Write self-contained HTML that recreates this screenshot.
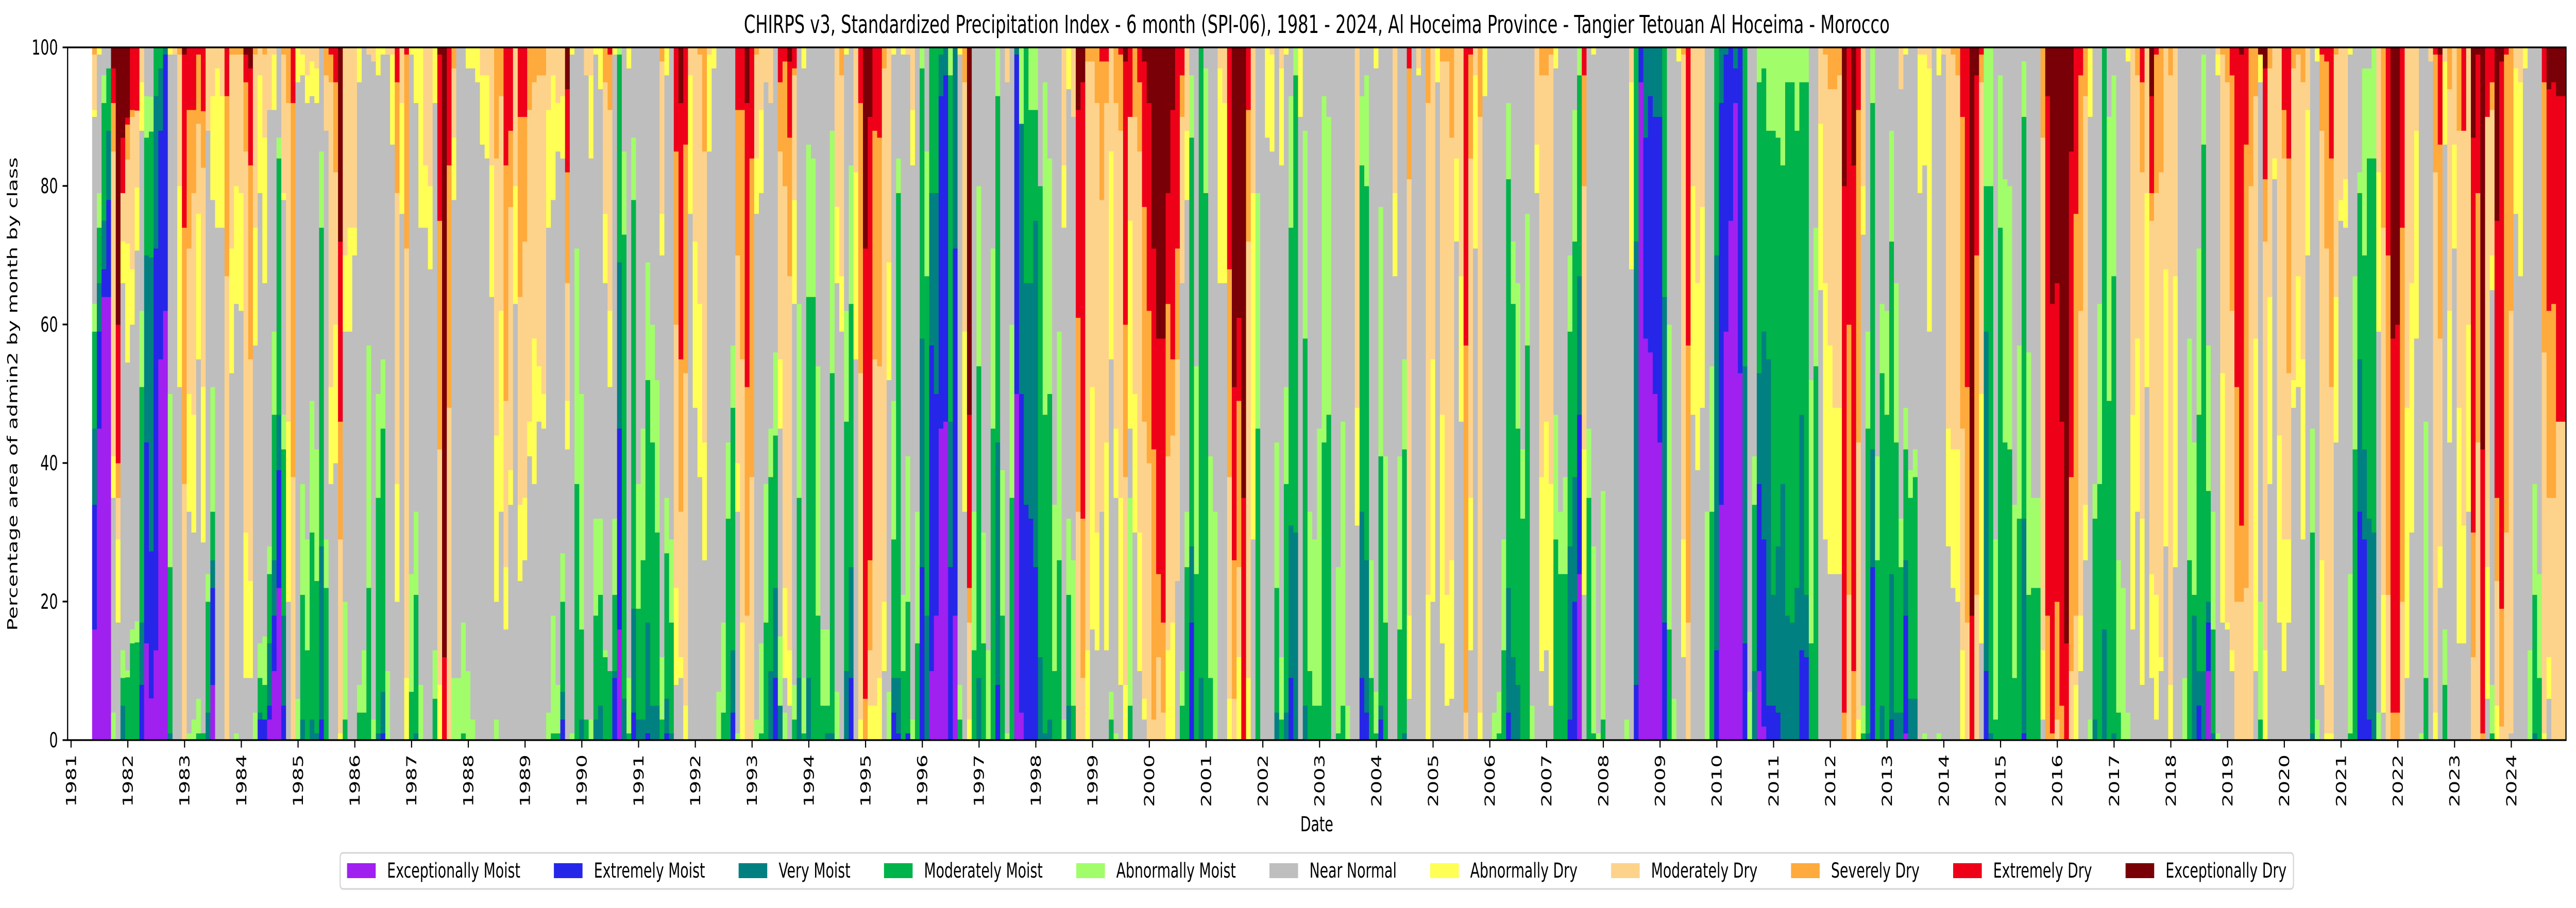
<!DOCTYPE html>
<html><head><meta charset="utf-8"><style>
html,body{margin:0;padding:0;background:#fff;overflow:hidden;width:100%;height:100%}
svg{display:block;width:100vw;height:100vh;font-family:"DejaVu Sans","Liberation Sans",sans-serif}
</style></head><body>
<svg id="chart" viewBox="0 0 7467 1763" preserveAspectRatio="none" xmlns="http://www.w3.org/2000/svg">
<rect width="7467" height="1763" fill="#fff"/>
<text x="3817" y="64" font-size="48" text-anchor="middle">CHIRPS v3, Standardized Precipitation Index - 6 month (SPI-06), 1981 - 2024, Al Hoceima Province - Tangier Tetouan Al Hoceima - Morocco</text>
<g id="bars"></g>
<g id="axes"></g>
<text transform="translate(50,765) rotate(-90)" font-size="40" text-anchor="middle">Percentage area of admin2 by month by class</text>
<text x="3817" y="1614" font-size="40" text-anchor="middle">Date</text>
<g id="legend"></g>
</svg>
<script>
const classNames = ["Exceptionally Moist","Extremely Moist","Very Moist","Moderately Moist","Abnormally Moist","Near Normal","Abnormally Dry","Moderately Dry","Severely Dry","Extremely Dry","Exceptionally Dry"];
const classColors = ["#a020f0","#2626e8","#008080","#00b34a","#a2fd6a","#bebebe","#ffff55","#fdd38c","#ffaa3c","#ee0019","#780006"];
const classKeys = ["a","b","c","d","e","f","g","h","i","j","k"];
const startYear = 1981, startMonth = 5;
const yTicks = [0,20,40,60,80,100];
const yearTicks = [1981,1982,1983,1984,1985,1986,1987,1988,1989,1990,1991,1992,1993,1994,1995,1996,1997,1998,1999,2000,2001,2002,2003,2004,2005,2006,2007,2008,2009,2010,2011,2012,2013,2014,2015,2016,2017,2018,2019,2020,2021,2022,2023,2024];
const monthlyComposition = [
"a16b18c11d14e4f27g1h8i1","a45b14c7d8e5f20g1","a64b4c7d17e4f4","a64b14c10d9f3","e4f31g6h44i7j5k3","f17g12h6i5j20k40","c5d4e4f53g6h7j8k13","d9e1f44g17h12i5j1k10","d14e2f44g8h22i1j9","d14e3f53g9h11j9",
"b8c9d34e11f26g7h5","a14b29c27d17e6f7","a6b21c42d18e5f7","a13b58c22d7","a55b33c9d3","a62b37c1","c1d24e25f49g1","f99h1","f51g29h19i1","h37i37j25k1",
"e1f32g17h21i20j9","e3f27g17h32i12j9","d1e5f49g21h13i10j1","d1f27g22h31i8j9","c4d16e4f64h12","a8b14c4d7e18f27g15h7","f74g23h3","f74g19h7","h67i26j7","f53g18h28i1",
"e1f62g17h19i1","f62g17h20i1","f9g21h55i10j4k1","f9g14h32i28j14k3","e4f53g17h25i1","b3c1d5e5f65g17h4","b3d5e7f51g21h12i1","a3b2c9d10e4f63h9","a10b8c8d21e12f32g8h1","a22b17c8d37e3f13",
"b5c13d24e5f31g1h20i1","f20g26h46i8","h38i54j8","e6f89g5","c3d18e16f59g3h1","d13e16f63g4h4","c3d27e19f44g5h2","c1d22e19f50g5h3","b3c25d46e11f15","d22e7f59h8i4",
"f37g14h44i4j1","f40g20h22i13j5","g1h28i17j26k28","d3e17f39g11h30","f59g15h26","f70g4h26","d4e4f87g5","d4e9f87","d22e35f42h1","e3f95h2",
"c1d34e15f46g4","b1c6d38e10f44g1","e10f89h1","f86g13h1","f20g17h42i16j5","f76g16h8","g9h62i28j1","d7e17f75g1","c1d20e12f59g8","e8f66g26",
"f74g9h17","f68g12h20","d6e7f79g8","g8h34i33j24k1","j12k88","h48i35j17","e9f69g9h10i3","e9f91","d1e16f83","e10f87g3",
"e3f94g3","f95g5","f86g10h4","f84g12h4","f64g19h17","e3f17g24h40i16","f33g29h31i7","f16g9h24i34j17","f34g5h38i11j12","f63g17h20",
"f23g11h30i26j10","f26g9h37i18j10","f41g5h45i9","f37g21h37i5","f46g8h42i4","f45g5h46i4","e4f70g17h9","d1e17f60g18h4","d1e7f77g7h8","b3c4d13e7f57g9h7",
"f42g7h17i16j12k6","e1f98g1","d37e34f29","c3d13e34f50","d3f93h4","e3f81g12h4","c3d15e14f67g1","c5d16e11f62g6","d12e1f53g10h19i5","d10f41g11h29i8j1",
"b9c1d11e11f67g1","a16b29c24d30e1","c6d67e12f15","d1e8f88g3","b4c15d59e9f13","c3d16e18f63","c3d23e19f55","b1c16d35e17f31","c5d38e17f40","c5d25e22f48",
"d3e9f58g6h22i2","b1c5d21e8f61g4","c1d16e12f71","f8g14h38i25j15","f9g3h21i22j37k8","g5h48i33j14","f76g20h4","f48g24h28","f38g25h36i1","f26g17h42i15",
"f85g14h1","f97g3","e7f93","d4e13f83","d32e11f57","b4c9d35e9f43","e1f32g7h30i21j9","g17h38i36j9","h18i33j41k8","h38i46j16",
"e3f73g8h15i1","d1e13f65g12h9","d17e20f58h5","c10d28e7f47h8","b9c13d22e12f44",
"c5e10f30g10h30i10j5","e4f5g13h58i18j2","f5g8h54i20j11k2","d3e5f55g15h18i1j3","c9d26e28f37","d1e8f88g3","c9d55e22f14","d64e20f16","d18e36f46","d5e11f84",
"c1d4e11f84","c1d52e35f12","e7f59g11h23","f59g8h29i4","c10d36e16f37g1","b9c16d38e20f17","f55g27h18","g3h50i39j8","i6j65k29","g5h8i13j64k10",
"g5h50i33j12","g9h45i33j13","f10g10h77i3","e7f45g17h31","b4c5d20e20f50g1","b1c8d70e5f16","d10e11f78g1","b1d19e21f58h1","e3f80g8h9","d14e19f67",
"b25c33d39e3","c18d49e18f15","a10b47c22d21","a18b32c29d21","a45b48c6d1","a46b50c4","b25c21d50e4","a18b53c29","d3e5f91g1","f33g26h36i5",
"g3h14i5j25k53","d13e20f67","c9d45e26f20","d14e16f70","e13f87","d45e26f29","b8c35d50e7","d18e21f61","e1f94h5","d35e25f40",
"a50b49c1","a4b46c39e11","b34c32d34","b32c34d25e9","b25c50d16e9","c12d68f20","c1d46e48f5","c3d47e34f16","d10e24f66","d26e33f41",
"e3f71g9h17","c5d16e11f62g6","d5e21f64h10","h33i28j30k9","h9i23j63k5","g13h85i2","f16g35h47i2","f13g17h62i8","f33h45i20j2","f13g30h49i6j2",
"d3e4f48g30h15","e1f34g10h47i8","f8g27h53i11j1","g8h30i22j38k2","d5e30f10g30h15j10",
"f30g20h40i10","f10g20h55i10j5","f3g3h40i31j21k2","h40i22j30k8","h3i39j29k29","h12i12j34k42","h4i13j41k42","g13h28i22j16k21","g17h27i11j36k9","f23h32i16j29",
"d5e5f56h24i6j4","d25e8f45g10h12","b17c11d59e9f4","d24e30f46","c9d91","d79e18f3","d9e32f59","e33f67","f66g31h3","f66g26h8",
"g6h32i30j32","h6i20j25k49","g12h13i24j12k39","j35k65","g9h63i19j9","f29g50h21","d45e34f21","f100","f87g13","f85g14h1",
"c4d18e21f57","d3e9f71g14h3","c4d33e14f48g1","b9c22d43e19f7","c30d66e4","f90g10","c5d53e30f12","d10e23f67","d5e24f71","d5e40f55",
"d43e50f7","d47e43f10","f100","d1e24f75","d5e41f54","e5f95","f100","f31g17h52","b9c24d50e10f7","b4c22d54e16f4",
"d9e17f74","d1e6f90g3","b3c2d36e36f23","d17e24f59","f100","f67g12h21","d16e25f59","c1d41e13f45","f6g12h63i16j3","f100",
"f96g1h3","f100","g21h71i8","f20g35h45","f95g5","f14g33h51i2","f5g16h77i2","f6g20h61i13","f72g12h16","f46g21h33",
"h4i53j43","f13g22h49i15j1","f71g25h4","g4h86i10","f93g7",
"f100","e4f96","d1e6f93","d13e16f71","b4c18d59e11f8","c12d51e9f28","c8d37e21f34","d32e10f58","d57e19f24","e5f95",
"f79g7h14","f10g28h58i4","f13g33h50i4","f5g32h62i1","d29e18f50g3","d24e9f67","d24e14f62","b3c25d31e11f30","b20c18d34e19f9","a24b23c20d29e4",
"f21g21h38i16j4","d35e10f55","d1e27f71g1","e1f99","d3e33f64","f100","f100","f100","f100","e3f97",
"f68g27h5","b8c64d28","a95b5","a58b29c13","a56b37c7","a50b40c10","a43b47c10","b17c47d36","d16e44f40","e6f94",
"f98g2","f12g17h70i1","h17i40j43","f47g33h20","f39g27h34","f48g29h23","e33f67","d33e21f46","b13c57d30","a34b58c8",
"a59b40c1","a75b25","a92b5c3","a53b47","b14c40d46","e7f93","c10d24e7f59","a10b27c16d42e5","a2b27c30d38e3","b5c50d33e12",
"b5c16d67e12","b4c24d59e13","c37d46e17","c18d77e5","c17d78e5","c22d66e12","b13c34d48e5","b12c9d74e5","d14e38f48","d54e20f26",
"f65g24h11","f29g37h33i1","f24g33h37i6","f24g24h46i6","f24g24h48i4","i4j76k20",
"h21i39j40","i10j73k17","g3h40i48j9","d1e4f68g7h20","c1d44e14f41","b25c17d50e8","d26e15f59","c5d48e10f37","d47e15f38","b3c21d48e16f12",
"c4d39e23f34","c4d21e7f62h6","a1b17c8d16e6f51g1","c6d29e4f61","c6d32e4f58","f79g20h1","e1f82g16h1","f59g38h3","f100","e1f95g4",
"f99h1","f28g17h55","f22g20h57i1","f20g22h54i4","g13h32i45j10","h17i34j49","j18k82","h21i49j26k4","f14g36h45i4j1","b10c49d21e20",
"c1d79e20","d3e26f71","d74e22f4","d43e38f19","d42e38f20","d9e25f66","d32e25f43","b1c31d58e8f2","d21e35f44","d22e13f65",
"d22e13f65","f3g10h74i13","i18j75k7","i1j62k37","h3i17j46k34","i5j41k54","j14k86","h10i28j47k15","g8h10i58j24","f10g8h44i34j4",
"f26g8h59i7","e3f87g10","c3d29e5f63","d37e26f37","c16d84","d49e41f10","c1d66e29f4","d4e22f74","e22f78","e4f94g2",
"f16g31h53","f33g25h38i4","f8g24h50i13j5","f51g28h21","f9g15h51i4j14k7","f3g18h58i20j1","f10g2h70i18","f28g40h32","g8h88i4","f25g42h33",
"f100","e9f91","d26e32f42","c18d3e22f57","b5c5d37e24f29","c10d76e13f1",
"a10b7c3d16e21f43","c1d15e17f67","e1f95g3h1","f17g36h46i1","f16g1h78i5","f10g3h49i34j4","h20i31j49","h20i11j68k1","h22i64j14","h80i20",
"f10g48h35i7","d3e17f75g4k1","g13h59i9j16k3","f37g27h33i3","f81g3h16","f17g27h56","f10g19h55i7j9","f17g12h24i31j16","f48g4h45i3","f51g16h32i1",
"f29g26h40i5","f70g21h9","c1d29e15f55","e3f95g2","f8g18h62i11j1","g1h70i27j2","g1h50i33j16","f43g21h35i1","f75g3h22","f74g7h19",
"d1e23f75g1","d42e25f33","b33c22d24e3f18","b29c13d28e27f3","b3c29d52e13f3","c30d54e16","e4f55g23h18","f4g17h53i26j0","h21i49j30","i4j54k42",
"i4j56k40","h20i54j26","f9g39h52","f30g36h34","f58g30h12","e1f99","d9e37f54","f98h2","g4h78i17j1","f22g6h30i28j13k1",
"d8e8f70g12h2","f43g19h32i6","f71g15h14","f14g34h40i12","f14g17h57j12","f33g27h40","h12i18j57k13","h43i36j20k1","i1j41k58","f6g19h65j10",
"d1e7f57g5h21i4j5","g5h18i12j40k25","h2i17j79k2","h30i69j1","f1h61i38","f76g21h3","f67g28h5","f97g3","e13f87","c1d20e16f63",
"d9e15f76","g1h55i39j5","f6g6h23i27j32k6","h35i28j32k5","h46j47k7","h46j47k7"
];
function parseShare(str, key) {
  const m = str.match(new RegExp(key + "(\\d+)"));
  return m ? parseFloat(m[1]) : 0;
}
const exceptionallyMoist = monthlyComposition.map(s => parseShare(s, "a"));
const extremelyMoist = monthlyComposition.map(s => parseShare(s, "b"));
const veryMoist = monthlyComposition.map(s => parseShare(s, "c"));
const moderatelyMoist = monthlyComposition.map(s => parseShare(s, "d"));
const abnormallyMoist = monthlyComposition.map(s => parseShare(s, "e"));
const nearNormal = monthlyComposition.map(s => parseShare(s, "f"));
const abnormallyDry = monthlyComposition.map(s => parseShare(s, "g"));
const moderatelyDry = monthlyComposition.map(s => parseShare(s, "h"));
const severelyDry = monthlyComposition.map(s => parseShare(s, "i"));
const extremelyDry = monthlyComposition.map(s => parseShare(s, "j"));
const exceptionallyDry = monthlyComposition.map(s => parseShare(s, "k"));
const seriesValues = [exceptionallyMoist,extremelyMoist,veryMoist,moderatelyMoist,abnormallyMoist,nearNormal,abnormallyDry,moderatelyDry,severelyDry,extremelyDry,exceptionallyDry];

const NS = "http://www.w3.org/2000/svg";
const plotL = 196, plotR = 7438, plotT = 92, plotB = 1437;
const x0 = 206, yearW = 164.5, monthW = yearW / 12;
function xScale(monthIndexFrom1981) { return x0 + monthIndexFrom1981 * monthW; }
function yScale(v) { return plotB - v / 100 * (plotB - plotT); }
function mk(tag, attrs, parent) {
  const el = document.createElementNS(NS, tag);
  for (const k in attrs) el.setAttribute(k, attrs[k]);
  parent.appendChild(el);
  return el;
}
const barsG = document.getElementById("bars");
const nMonths = monthlyComposition.length;
for (let i = 0; i < nMonths; i++) {
  let total = 0;
  for (let c = 0; c < 11; c++) total += seriesValues[c][i];
  if (total <= 0) continue;
  let acc = 0;
  const left = xScale(startMonth - 0.55 + i);
  for (let c = 0; c < 11; c++) {
    const v = seriesValues[c][i] / total * 100;
    if (v <= 0) continue;
    const yTop = yScale(acc + v), yBot = yScale(acc);
    const r = mk("rect", {x: left.toFixed(2), y: yTop.toFixed(2), width: (monthW + 0.6).toFixed(2), height: (yBot - yTop + 0.5).toFixed(2), fill: classColors[c]}, barsG);
    
    
    acc += v;
  }
}
const axesG = document.getElementById("axes");
const frame = mk("rect", {x: plotL, y: plotT, width: plotR - plotL, height: plotB - plotT, fill: "none", stroke: "#000", "stroke-width": 3.4}, axesG);


yTicks.forEach(t => {
  const y = yScale(t);
  const tk = mk("line", {x1: plotL - 14.6, x2: plotL, y1: y, y2: y, stroke: "#000", "stroke-width": 3.3}, axesG);
  
  
  const lb = mk("text", {x: plotL - 28, y: y + 14, "font-size": 40, "text-anchor": "end"}, axesG);
  lb.textContent = t;
  
  
});
yearTicks.forEach(yr => {
  const x = xScale((yr - startYear) * 12);
  const tk = mk("line", {x1: x, x2: x, y1: plotB, y2: plotB + 14.6, stroke: "#000", "stroke-width": 3.3}, axesG);
  
  
  const lb = mk("text", {transform: `translate(${x + 14},${plotB + 28}) rotate(-90)`, "font-size": 40, "text-anchor": "end"}, axesG);
  lb.textContent = yr;
  
  
});
const legendG = document.getElementById("legend");
const lbox = mk("rect", {x: 984, y: 1656, width: 5664, height: 70, rx: 8, fill: "#fff", stroke: "#d6d6d6", "stroke-width": 3.3}, legendG);


const entries = [];
classNames.forEach((nm, c) => {
  const g = mk("g", {}, legendG);
  
  
  const sw = mk("rect", {x: 0, y: 1676, width: 83, height: 29, fill: classColors[c]}, g);
  const t = mk("text", {x: 0, y: 1704, "font-size": 40}, g);
  t.textContent = nm;
  entries.push({sw, t, w: t.getComputedTextLength()});
});
const handleW = 83, pad = 33, boxPad = 20, targetW = 5662 - 2 * boxPad;
let textSum = 0;
entries.forEach(e => { textSum += handleW + pad + e.w; });
const colGap = Math.max(40, (targetW - textSum) / 10);
const totalW = textSum + colGap * 10;
let cx = 3817 - totalW / 2;
lbox.setAttribute("x", cx - boxPad);
lbox.setAttribute("width", totalW + 2 * boxPad);
entries.forEach(e => {
  e.sw.setAttribute("x", cx);
  e.t.setAttribute("x", cx + handleW + pad);
  cx += handleW + pad + e.w + colGap;
});
</script>
</body></html>
